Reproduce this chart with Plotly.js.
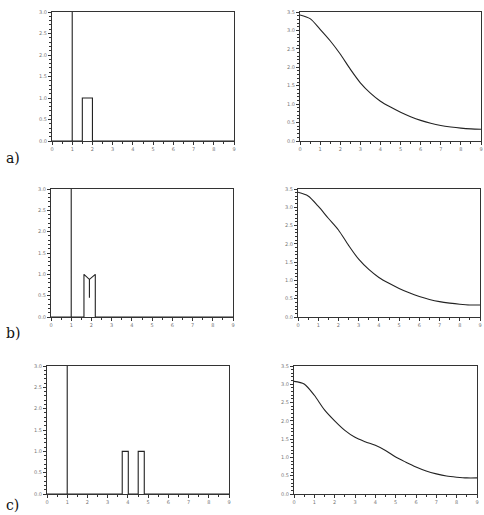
<!DOCTYPE html>
<html>
<head>
<meta charset="utf-8">
<script src="https://cdn.plot.ly/plotly-3.0.1.min.js"></script>
<style>html,body{margin:0;padding:0;background:#fff}#chart{width:484px;height:515px}</style>
</head>
<body>
<div id="chart"></div>
<script>
// Left column: step profiles (x, y)
const aLeftX = [0, 1, 1, 1, 1.5, 1.5, 2.0, 2.0, 9];
const aLeftY = [0, 0, 3.6, 0, 0, 1.0, 1.0, 0, 0];
const bLeftX = [0, 1, 1, 1, 1.63, 1.63, 1.9, 1.9, 1.9, 2.19, 2.19, 9];
const bLeftY = [0, 0, 3.6, 0, 0, 1.0, 0.88, 0.45, 0.88, 1.0, 0, 0];
const cLeftX = [0, 1, 1, 1, 3.72, 3.72, 4.02, 4.02, 4.51, 4.51, 4.81, 4.81, 9];
const cLeftY = [0, 0, 3.6, 0, 0, 1.0, 1.0, 0, 0, 1.0, 1.0, 0, 0];

// Right column: smooth curves
const curveX = [0, 0.5, 1.0, 1.5, 2.0, 2.5, 3.0, 3.5, 4.0, 4.5, 5.0, 5.5, 6.0, 6.5, 7.0, 7.5, 8.0, 8.5, 9.0];
const aRightY = [3.42, 3.32, 3.03, 2.72, 2.36, 1.95, 1.58, 1.30, 1.08, 0.92, 0.78, 0.66, 0.56, 0.48, 0.42, 0.38, 0.35, 0.33, 0.32];
const bRightY = [3.41, 3.31, 3.03, 2.70, 2.38, 1.96, 1.58, 1.30, 1.08, 0.92, 0.78, 0.66, 0.56, 0.48, 0.42, 0.38, 0.35, 0.33, 0.33];
const cRightY = [3.08, 3.01, 2.70, 2.30, 2.00, 1.74, 1.55, 1.43, 1.33, 1.19, 1.01, 0.87, 0.74, 0.63, 0.55, 0.49, 0.46, 0.44, 0.44];

const xTicks = [0, 1, 2, 3, 4, 5, 6, 7, 8, 9];
const xTickText = ['0', '1', '2', '3', '4', '5', '6', '7', '8', '9'];
const leftYTicks = [0, 0.5, 1.0, 1.5, 2.0, 2.5, 3.0];
const rightYTicks = [0, 0.5, 1.0, 1.5, 2.0, 2.5, 3.0, 3.5];
const labels = ['a)', 'b)', 'c)'];

const lineColor = '#222';
function line(x, y, xa, ya, spline) {
  return {x: x, y: y, xaxis: xa, yaxis: ya, type: 'scatter', mode: 'lines',
    line: {color: lineColor, width: 1.1, shape: spline ? 'spline' : 'linear', smoothing: 0.8},
    hoverinfo: 'none', showlegend: false};
}
function xAxis(dom, anchor) {
  return {domain: dom, anchor: anchor, range: [0, 9], tickvals: xTicks, ticktext: xTickText,
    showgrid: false, zeroline: false, showline: true, mirror: true, linecolor: '#333', linewidth: 1,
    ticks: 'outside', ticklen: 3, tickcolor: '#333', tickwidth: 1,
    minor: {dtick: 0.5, ticks: 'outside', ticklen: 2, tickcolor: '#333'},
    tickfont: {size: 5, color: '#777', family: 'DejaVu Sans'}, fixedrange: true};
}
function yAxis(dom, anchor, top, ticks) {
  return {domain: dom, anchor: anchor, range: [0, top], tickvals: ticks,
    ticktext: ticks.map(v => v.toFixed(1)),
    showgrid: false, zeroline: false, showline: true, mirror: true, linecolor: '#333', linewidth: 1,
    ticks: 'outside', ticklen: 3, tickcolor: '#333', tickwidth: 1,
    minor: {dtick: 0.1, ticks: 'outside', ticklen: 2, tickcolor: '#333'},
    tickfont: {size: 5, color: '#777', family: 'DejaVu Sans'}, fixedrange: true};
}

const H = 515, W = 484;
const rows = [[12, 141], [189, 317], [366, 494]];
const leftCols = [[52, 234], [51, 233], [47, 229]];
const rightCols = [[300, 481], [298, 480], [294, 477]];
const labelY = [158, 333, 505];
const fx = p => p / W, fy = p => 1 - p / H;

const data = [
  line(aLeftX, aLeftY, 'x', 'y', false),
  line(curveX, aRightY, 'x2', 'y2', true),
  line(bLeftX, bLeftY, 'x3', 'y3', false),
  line(curveX, bRightY, 'x4', 'y4', true),
  line(cLeftX, cLeftY, 'x5', 'y5', false),
  line(curveX, cRightY, 'x6', 'y6', true)
];

const layout = {width: W, height: H, margin: {l: 0, r: 0, t: 0, b: 0},
  paper_bgcolor: '#fff', plot_bgcolor: '#fff', showlegend: false, annotations: []};
for (let r = 0; r < 3; r++) {
  const n = 2 * r + 1, m = 2 * r + 2;
  const yd = [fy(rows[r][1]), fy(rows[r][0])];
  layout['xaxis' + (n === 1 ? '' : n)] = xAxis([fx(leftCols[r][0]), fx(leftCols[r][1])], 'y' + (n === 1 ? '' : n));
  layout['yaxis' + (n === 1 ? '' : n)] = yAxis(yd, 'x' + (n === 1 ? '' : n), 3.0, leftYTicks);
  layout['xaxis' + m] = xAxis([fx(rightCols[r][0]), fx(rightCols[r][1])], 'y' + m);
  layout['yaxis' + m] = yAxis(yd, 'x' + m, 3.5, rightYTicks);
  layout.annotations.push({text: labels[r], xref: 'paper', yref: 'paper', x: fx(4), y: fy(labelY[r]),
    xanchor: 'left', yanchor: 'middle', showarrow: false,
    font: {family: 'DejaVu Serif', size: 14, color: '#111'}});
}

Plotly.newPlot('chart', data, layout, {staticPlot: true, displayModeBar: false});
</script>
</body>
</html>
